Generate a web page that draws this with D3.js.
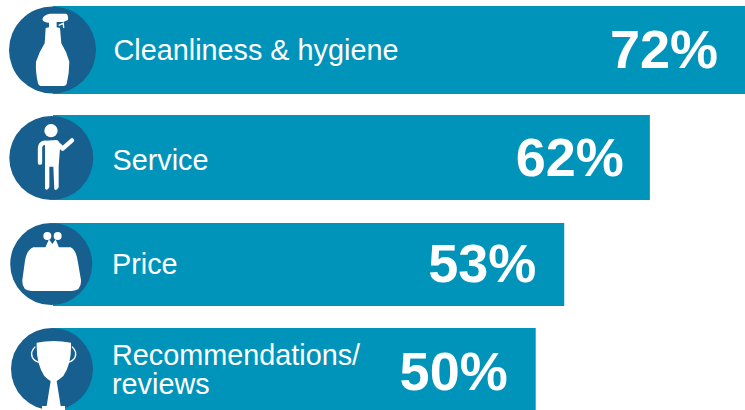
<!DOCTYPE html>
<html><head><meta charset="utf-8">
<script src="https://cdn.jsdelivr.net/npm/d3@7/dist/d3.min.js"></script>
<style>html,body{margin:0;padding:0;background:#fff}svg{display:block}text{font-family:"Liberation Sans",Arial,sans-serif;fill:#fff}</style>
</head><body><div id="c"></div>
<script>
const categories = ["Cleanliness & hygiene", "Service", "Price", "Recommendations/\nreviews"];
const values = [72, 62, 53, 50];
const barTops = [6, 115, 223, 328];
const barBottoms = [94, 200, 306, 410];
const circleX = [52.5, 51.3, 51.2, 52];
const circleY = [50, 158, 264, 369];
const circleR = [43.5, 42, 41, 41];
const labelX = [113.5, 112.5, 112, 112];
const labelBase = [60, 170, 274, 365];
const pctBase = [68, 176, 282, 390];
const pctInset = [27, 26, 28, 28];
const W = 745, H = 410;
const x = d3.scaleLinear().domain([0, 72]).range([60, 745]);
const svg = d3.select("#c").append("svg").attr("width", W).attr("height", H);
const BAR = "#0094ba", CIRC = "#175f8e";
const rows = d3.range(values.length);
svg.selectAll("rect.bar").data(rows).join("rect").attr("class", "bar")
  .attr("x", 53).attr("y", i => barTops[i])
  .attr("width", i => x(values[i]) - 53).attr("height", i => barBottoms[i] - barTops[i])
  .attr("fill", BAR);
svg.selectAll("circle.c").data(rows).join("circle").attr("class", "c")
  .attr("cx", i => circleX[i]).attr("cy", i => circleY[i]).attr("r", i => circleR[i]).attr("fill", CIRC);
svg.selectAll("text.lab").data(rows).join("text").attr("class", "lab")
  .attr("y", i => labelBase[i]).attr("font-size", 28.8)
  .each(function (i) {
    const lines = categories[i].split("\n");
    d3.select(this).selectAll("tspan").data(lines).join("tspan")
      .attr("x", labelX[i]).attr("dy", (d, k) => k ? 29 : 0).text(d => d);
  });
svg.selectAll("text.pct").data(rows).join("text").attr("class", "pct")
  .attr("x", i => x(values[i]) - pctInset[i]).attr("y", i => pctBase[i])
  .attr("text-anchor", "end").attr("font-size", 54).attr("font-weight", 700)
  .text(i => values[i] + "%");
// icons are traced in 3x pixel units
const ic = svg.append("g").attr("transform", "scale(0.3333)");
const w = "#fff";
// bottle
ic.append("path").attr("fill", w).attr("d", "M127,58Q130,44 150,41L198,41Q206,44 204,60L190,66L170,66L170,82L180,84L184,130Q200,155 208,185Q208,220 200,252Q198,258 190,258L122,258Q116,258 114,250Q106,215 108,185Q118,155 134,130L137,84L147,82L147,68Q130,68 127,58Z");
ic.append("path").attr("fill", "none").attr("stroke", w).attr("stroke-width", 4).attr("d", "M176,76L190,70L191,84");
// person
ic.append("circle").attr("cx", 153).attr("cy", 392).attr("r", 20).attr("fill", w);
ic.append("path").attr("fill", w).attr("d", "M135,422L168,420Q176,420 180,432L180,445L176,500L176,562Q170,574 163,568L160,500L148,500L148,562Q142,574 135,566L135,440Z");
ic.append("path").attr("fill", "none").attr("stroke", w).attr("stroke-width", 13).attr("stroke-linecap", "round").attr("stroke-linejoin", "round").attr("d", "M135,428Q120,430 120,445L120,488M178,436L188,446L216,421");
const lower = ic.append("g").attr("transform", "translate(0,410)");
// purse
lower.append("circle").attr("cx", 142).attr("cy", 298).attr("r", 12).attr("fill", w);
lower.append("circle").attr("cx", 173).attr("cy", 298).attr("r", 12).attr("fill", w);
lower.append("path").attr("fill", w).attr("d", "M135,335L147,308L157,322L167,308L178,335Z");
lower.append("path").attr("fill", w).attr("d", "M100,332L212,332Q228,340 233,372L243,430Q245,463 215,463L95,463Q65,463 67,430L75,372Q80,340 100,332Z");
// trophy
lower.append("path").attr("fill", w).attr("d", "M110,618Q160,608 213,618Q216,680 190,718Q176,730 170,733L182,808L195,808L195,830L126,830L126,808L140,808L152,733Q145,730 133,718Q108,680 110,618Z");
lower.append("path").attr("fill", "none").attr("stroke", w).attr("stroke-width", 4).attr("d", "M106,630Q90,645 97,662Q104,674 118,677M216,630Q232,645 225,662Q218,674 204,677");
</script></body></html>
